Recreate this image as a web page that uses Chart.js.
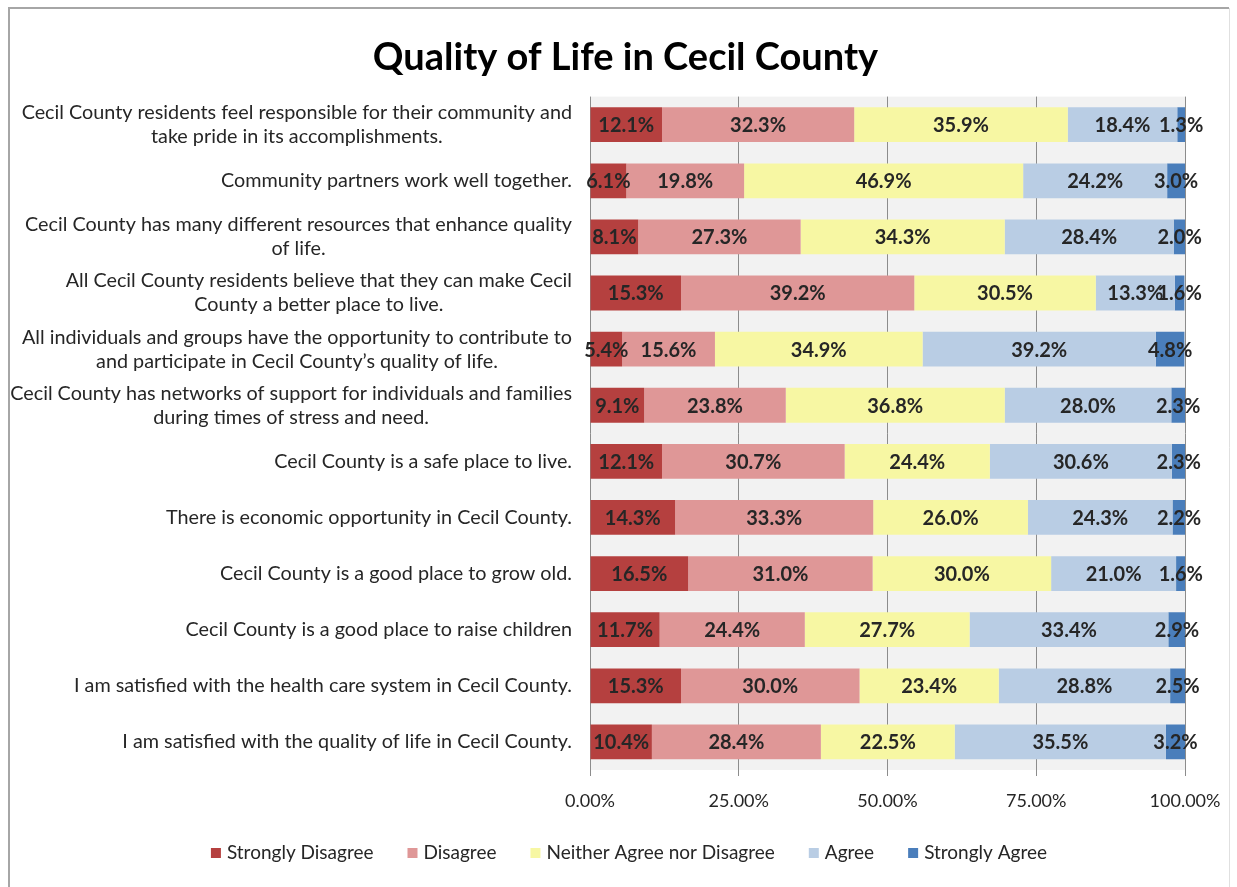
<!DOCTYPE html>
<html>
<head>
<meta charset="utf-8">
<script src="https://cdn.jsdelivr.net/npm/chart.js@4/dist/chart.umd.min.js"></script>
<style>
  html, body { margin: 0; padding: 0; background: #fff; }
  #wrap { width: 1237px; height: 887px; }
</style>
</head>
<body>
<div id="wrap"><canvas id="c" width="1237" height="887"></canvas></div>
<script>
const chartTitle = "Quality of Life in Cecil County";
const categories = [
  ["Cecil County residents feel responsible for their community and", "take pride in its accomplishments."],
  "Community partners work well together.",
  ["Cecil County has many different resources that enhance quality", "of life."],
  ["All Cecil County residents believe that they can make Cecil", "County a better place to live."],
  ["All individuals and groups have the opportunity to contribute to", "and participate in Cecil County\u2019s quality of life."],
  ["Cecil County has networks of support for individuals and families", "during times of stress and need."],
  "Cecil County is a safe place to live.",
  "There is economic opportunity in Cecil County.",
  "Cecil County is a good place to grow old.",
  "Cecil County is a good place to raise children",
  "I am satisfied with the health care system in Cecil County.",
  "I am satisfied with the quality of life in Cecil County."
];
const seriesNames = ["Strongly Disagree", "Disagree", "Neither Agree nor Disagree", "Agree", "Strongly Agree"];
const stronglyDisagree = [12.1, 6.1, 8.1, 15.3, 5.4, 9.1, 12.1, 14.3, 16.5, 11.7, 15.3, 10.4];
const disagree         = [32.3, 19.8, 27.3, 39.2, 15.6, 23.8, 30.7, 33.3, 31.0, 24.4, 30.0, 28.4];
const neither          = [35.9, 46.9, 34.3, 30.5, 34.9, 36.8, 24.4, 26.0, 30.0, 27.7, 23.4, 22.5];
const agree            = [18.4, 24.2, 28.4, 13.3, 39.2, 28.0, 30.6, 24.3, 21.0, 33.4, 28.8, 35.5];
const stronglyAgree    = [1.3, 3.0, 2.0, 1.6, 4.8, 2.3, 2.3, 2.2, 1.6, 2.9, 2.5, 3.2];
const xTicks = [0, 25, 50, 75, 100];

const colors = ["#b5403f", "#df9797", "#f7f7a3", "#b9cde4", "#4a7ebb"];
const FONT = "Lato, 'Open Sans', sans-serif";
const TEXT = "#262626";

const seriesValues = [stronglyDisagree, disagree, neither, agree, stronglyAgree];

const frameAndBg = {
  id: 'frameAndBg',
  beforeDraw(chart) {
    const ctx = chart.ctx, a = chart.chartArea;
    ctx.save();
    ctx.fillStyle = '#fff';
    ctx.fillRect(0, 0, chart.width, chart.height);
    ctx.strokeStyle = '#a6a6a6';
    ctx.lineWidth = 2;
    ctx.beginPath();
    ctx.moveTo(9, chart.height + 2); ctx.lineTo(9, 8); ctx.lineTo(1229, 8);
    ctx.stroke();
    ctx.strokeStyle = '#e0e0e0';
    ctx.lineWidth = 1;
    ctx.beginPath();
    ctx.moveTo(1229.5, 8); ctx.lineTo(1229.5, chart.height);
    ctx.stroke();
    ctx.fillStyle = '#f2f2f2';
    ctx.fillRect(a.left, a.top, a.right - a.left, a.bottom - a.top);
    ctx.restore();
  }
};

const catLabels = {
  id: 'catLabels',
  afterDraw(chart) {
    const ctx = chart.ctx, ys = chart.scales.y;
    ctx.save();
    ctx.font = "19.8px " + FONT;
    ctx.fillStyle = TEXT;
    ctx.textBaseline = 'middle';
    ctx.textAlign = 'center';
    const right = chart.chartArea.left - 18;
    const lh = 24;
    chart.data.labels.forEach((lab, i) => {
      const lines = Array.isArray(lab) ? lab : [lab];
      const w = Math.max(...lines.map(l => ctx.measureText(l).width));
      const cx = right - w / 2;
      const yc = ys.getPixelForTick(i);
      const y0 = yc - (lines.length - 1) * lh / 2;
      lines.forEach((l, k) => ctx.fillText(l, cx, y0 + k * lh));
    });
    ctx.restore();
  }
};

const valueLabels = {
  id: 'valueLabels',
  afterDatasetsDraw(chart) {
    const ctx = chart.ctx;
    ctx.save();
    ctx.font = "bold 20px " + FONT;
    ctx.fillStyle = TEXT;
    ctx.textAlign = 'center';
    ctx.textBaseline = 'middle';
    chart.data.datasets.forEach((ds, di) => {
      const meta = chart.getDatasetMeta(di);
      meta.data.forEach((el, i) => {
        const v = ds.data[i];
        const x = (el.x + el.base) / 2;
        ctx.fillText(v.toFixed(1) + '%', x, el.y + 1);
      });
    });
    ctx.restore();
  }
};

const customLegend = {
  id: 'customLegend',
  afterDraw(chart) {
    const ctx = chart.ctx;
    ctx.save();
    ctx.font = "19px " + FONT;
    ctx.textBaseline = 'middle';
    ctx.textAlign = 'left';
    const box = 10, gapBox = 6, gapItem = 34, y = 853, center = 629;
    const items = chart.data.datasets.map(ds => ({ text: ds.label, color: ds.backgroundColor, w: ctx.measureText(ds.label).width }));
    const total = items.reduce((s, it) => s + box + gapBox + it.w, 0) + gapItem * (items.length - 1);
    let x = center - total / 2;
    items.forEach(it => {
      ctx.fillStyle = it.color;
      ctx.fillRect(x, y - box / 2, box, box);
      ctx.fillStyle = TEXT;
      ctx.fillText(it.text, x + box + gapBox, y);
      x += box + gapBox + it.w + gapItem;
    });
    ctx.restore();
  }
};

new Chart(document.getElementById('c'), {
  type: 'bar',
  data: {
    labels: categories,
    datasets: seriesNames.map((n, i) => ({
      label: n,
      data: seriesValues[i],
      backgroundColor: colors[i],
      borderWidth: 0,
      barPercentage: 0.62,
      categoryPercentage: 1.0
    }))
  },
  options: {
    indexAxis: 'y',
    responsive: false,
    animation: false,
    devicePixelRatio: 1,
    layout: { padding: { left: 66, right: 52, top: 0, bottom: 67 } },
    plugins: {
      legend: { display: false },
      tooltip: { enabled: false },
      title: {
        display: true,
        text: chartTitle,
        color: '#000',
        font: { family: FONT, size: 38, weight: 'bold', lineHeight: 1.2 },
        padding: { top: 35, bottom: 16 }
      }
    },
    scales: {
      x: {
        stacked: true,
        min: 0,
        max: 100,
        afterBuildTicks(s) { s.ticks = xTicks.map(v => ({ value: v })); },
        afterFit(s) { s.height = 50; },
        grid: { color: '#8c8c8c', lineWidth: 1, tickLength: 6, drawTicks: true },
        border: { display: false },
        ticks: {
          color: TEXT,
          padding: 14,
          maxRotation: 0,
          font: { family: FONT, size: 18 },
          callback: v => Number(v).toFixed(2) + '%'
        }
      },
      y: {
        stacked: true,
        afterFit(s) { s.width = 524; },
        grid: { display: false },
        border: { display: false },
        ticks: { display: false }
      }
    }
  },
  plugins: [frameAndBg, valueLabels, catLabels, customLegend]
});
</script>
</body>
</html>
